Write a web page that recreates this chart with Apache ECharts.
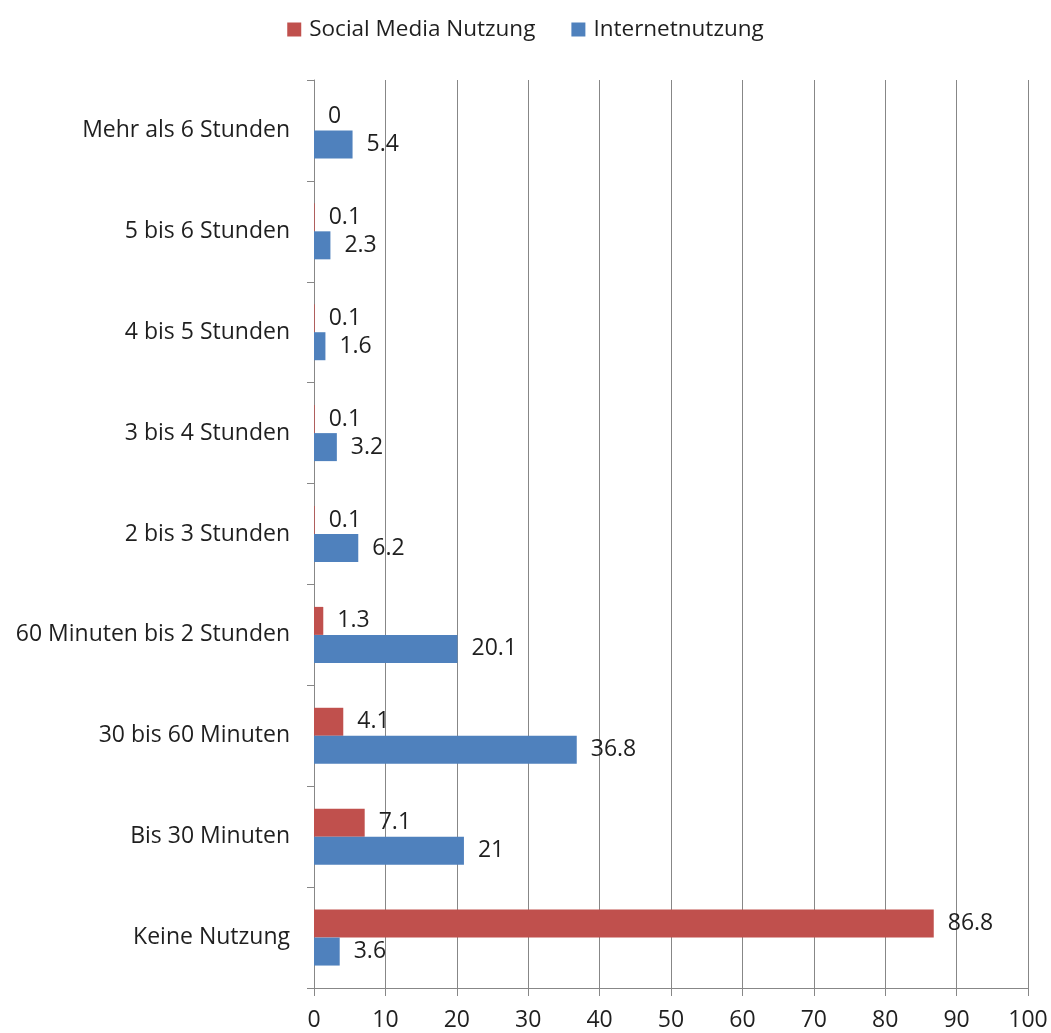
<!DOCTYPE html>
<html>
<head>
<meta charset="utf-8">
<script src="https://cdn.jsdelivr.net/npm/echarts@6/dist/echarts.min.js"></script>
<style>
  html, body { margin: 0; padding: 0; background: #fff; }
  #chart { width: 1051px; height: 1033px; }
</style>
</head>
<body>
<div id="chart"></div>
<script>
// Daily usage duration categories (bottom to top)
const categories = [
  'Keine Nutzung',
  'Bis 30 Minuten',
  '30 bis 60 Minuten',
  '60 Minuten bis 2 Stunden',
  '2 bis 3 Stunden',
  '3 bis 4 Stunden',
  '4 bis 5 Stunden',
  '5 bis 6 Stunden',
  'Mehr als 6 Stunden'
];
const socialMedia = [86.8, 7.1, 4.1, 1.3, 0.1, 0.1, 0.1, 0.1, 0];
const internet = [3.6, 21, 36.8, 20.1, 6.2, 3.2, 1.6, 2.3, 5.4];
const seriesNames = ['Social Media Nutzung', 'Internetnutzung'];

const FONT = '"Open Sans", "Noto Sans", sans-serif';
const TEXT = '#1f1f1f';
const GRID = '#878787';

const chart = echarts.init(document.getElementById('chart'), null, { renderer: 'canvas' });

const labelStyle = {
  show: true,
  position: 'right',
  distance: 14,
  color: TEXT,
  fontFamily: FONT,
  fontSize: 23,
  formatter: p => String(p.value)
};

chart.setOption({
  animation: false,
  backgroundColor: '#fff',
  textStyle: { fontFamily: FONT },
  legend: {
    top: 13,
    left: 'center',
    itemWidth: 14,
    itemHeight: 14,
    itemGap: 36,
    icon: 'rect',
    textStyle: { fontFamily: FONT, fontSize: 22.5, color: TEXT, padding: [0, 0, 0, 3] },
    data: seriesNames
  },
  grid: { left: 314, right: 23, top: 80, bottom: 45, containLabel: false },
  xAxis: {
    type: 'value',
    min: 0,
    max: 100,
    interval: 10,
    axisLine: { show: true, lineStyle: { color: GRID, width: 1 } },
    axisTick: { show: true, length: 8, lineStyle: { color: GRID } },
    splitLine: { show: true, lineStyle: { color: GRID, width: 1 } },
    axisLabel: { color: TEXT, fontFamily: FONT, fontSize: 23, margin: 21 }
  },
  yAxis: {
    type: 'category',
    data: categories,
    axisLine: { show: true, lineStyle: { color: GRID, width: 1 } },
    axisTick: { show: true, length: 7, lineStyle: { color: GRID } },
    axisLabel: { color: TEXT, fontFamily: FONT, fontSize: 23, margin: 24 }
  },
  series: [
    {
      name: seriesNames[0],
      type: 'bar',
      data: socialMedia,
      barWidth: 28,
      barGap: '0%',
      itemStyle: { color: '#C0504D' },
      label: labelStyle
    },
    {
      name: seriesNames[1],
      type: 'bar',
      data: internet,
      barWidth: 28,
      barGap: '0%',
      itemStyle: { color: '#4F81BD' },
      label: labelStyle
    }
  ]
});
</script>
</body>
</html>
